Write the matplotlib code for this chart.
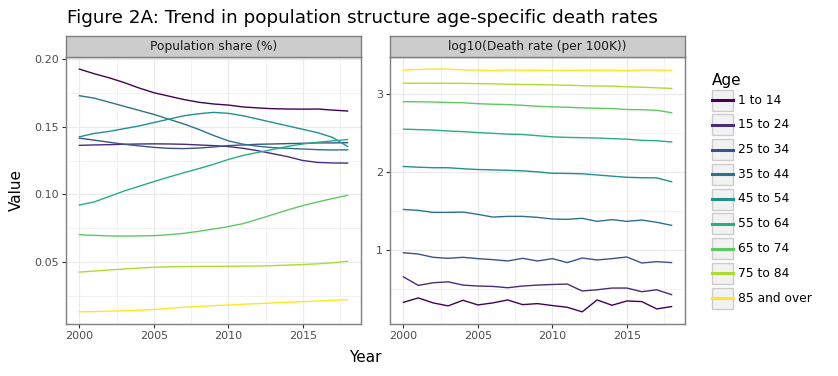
import matplotlib
matplotlib.use("Agg")
import matplotlib.pyplot as plt
from matplotlib.patches import Rectangle
from matplotlib.lines import Line2D
from matplotlib.ticker import MultipleLocator

years = list(range(2000, 2019))
ages = ["1 to 14", "15 to 24", "25 to 34", "35 to 44", "45 to 54",
        "55 to 64", "65 to 74", "75 to 84", "85 and over"]
colors = ["#440154", "#472D7B", "#3B528B", "#2C728E", "#21918C",
          "#28AE80", "#5EC962", "#ADDC30", "#FDE725"]

# Population share (%)
share = {
    "1 to 14": [0.1924, 0.189, 0.186, 0.1825, 0.1785, 0.175, 0.1725, 0.170, 0.168, 0.1667,
                0.1659, 0.1645, 0.1638, 0.1632, 0.163, 0.1629, 0.163, 0.1622, 0.1615],
    "15 to 24": [0.1362, 0.1365, 0.1367, 0.137, 0.1372, 0.1373, 0.1372, 0.137, 0.1365, 0.136,
                 0.1353, 0.134, 0.1322, 0.130, 0.1278, 0.125, 0.1236, 0.1232, 0.1231],
    "25 to 34": [0.1415, 0.140, 0.1385, 0.137, 0.1358, 0.1347, 0.134, 0.1338, 0.1342, 0.135,
                 0.136, 0.1365, 0.137, 0.1372, 0.1375, 0.1377, 0.138, 0.138, 0.1382],
    "35 to 44": [0.1728, 0.171, 0.168, 0.165, 0.162, 0.159, 0.1555, 0.152, 0.148, 0.1435,
                 0.1395, 0.137, 0.1355, 0.1345, 0.134, 0.1335, 0.133, 0.1328, 0.1329],
    "45 to 54": [0.1425, 0.145, 0.1465, 0.1485, 0.1505, 0.153, 0.1555, 0.158, 0.1595, 0.1605,
                 0.1598, 0.158, 0.1555, 0.153, 0.1505, 0.148, 0.1455, 0.142, 0.1354],
    "55 to 64": [0.0922, 0.0945, 0.0985, 0.1025, 0.106, 0.1095, 0.1128, 0.116, 0.119, 0.1222,
                 0.1258, 0.1288, 0.131, 0.1332, 0.1355, 0.1372, 0.1385, 0.1395, 0.1405],
    "65 to 74": [0.0703, 0.0698, 0.0694, 0.0693, 0.0694, 0.0696, 0.0703, 0.0713, 0.0728, 0.0745,
                 0.0763, 0.0785, 0.0818, 0.0852, 0.0886, 0.0918, 0.0945, 0.097, 0.0993],
    "75 to 84": [0.0427, 0.0435, 0.0443, 0.045, 0.0457, 0.0463, 0.0466, 0.0468, 0.0469, 0.0469,
                 0.047, 0.0471, 0.0472, 0.0475, 0.0479, 0.0483, 0.0488, 0.0496, 0.0507],
    "85 and over": [0.0134, 0.0136, 0.0139, 0.0142, 0.0146, 0.0151, 0.0160, 0.0168, 0.0174, 0.018,
                    0.0185, 0.019, 0.0195, 0.020, 0.0205, 0.0209, 0.0214, 0.0219, 0.0224],
}

# log10(Death rate (per 100K))
logdeath = {
    "1 to 14": [0.329, 0.385, 0.321, 0.283, 0.355, 0.295, 0.321, 0.359, 0.299, 0.312,
                0.287, 0.265, 0.206, 0.359, 0.291, 0.346, 0.338, 0.244, 0.274],
    "15 to 24": [0.656, 0.546, 0.580, 0.592, 0.550, 0.538, 0.533, 0.516, 0.538, 0.550,
                 0.558, 0.563, 0.474, 0.490, 0.512, 0.512, 0.465, 0.490, 0.427],
    "25 to 34": [0.966, 0.949, 0.907, 0.894, 0.907, 0.890, 0.877, 0.860, 0.894, 0.860,
                 0.890, 0.839, 0.898, 0.873, 0.890, 0.911, 0.834, 0.851, 0.839],
    "35 to 44": [1.522, 1.510, 1.484, 1.484, 1.488, 1.459, 1.424, 1.433, 1.433, 1.420,
                 1.399, 1.395, 1.408, 1.369, 1.391, 1.369, 1.386, 1.357, 1.318],
    "45 to 54": [2.074, 2.065, 2.058, 2.058, 2.045, 2.035, 2.030, 2.025, 2.018, 2.005,
                 1.987, 1.985, 1.980, 1.965, 1.950, 1.935, 1.930, 1.928, 1.878],
    "55 to 64": [2.554, 2.548, 2.542, 2.530, 2.522, 2.510, 2.500, 2.490, 2.485, 2.470,
                 2.455, 2.448, 2.444, 2.440, 2.432, 2.425, 2.410, 2.405, 2.389],
    "65 to 74": [2.907, 2.906, 2.902, 2.897, 2.893, 2.881, 2.874, 2.870, 2.860, 2.848,
                 2.840, 2.835, 2.828, 2.822, 2.818, 2.806, 2.804, 2.796, 2.765],
    "75 to 84": [3.144, 3.144, 3.143, 3.143, 3.142, 3.139, 3.136, 3.131, 3.128, 3.126,
                 3.122, 3.118, 3.113, 3.108, 3.107, 3.098, 3.093, 3.085, 3.077],
    "85 and over": [3.310, 3.322, 3.325, 3.325, 3.315, 3.313, 3.305, 3.315, 3.310, 3.310,
                    3.308, 3.308, 3.310, 3.310, 3.312, 3.303, 3.315, 3.313, 3.308],
}

panels = [("Population share (%)", share, [0.05, 0.10, 0.15, 0.20], ["0.05", "0.10", "0.15", "0.20"], 0.025),
          ("log10(Death rate (per 100K))", logdeath, [1, 2, 3], ["1", "2", "3"], 0.5)]
xticks = [2000, 2005, 2010, 2015]

W, H = 838, 376
fig = plt.figure(figsize=(W / 100, H / 100), dpi=100)
plt.rcParams['font.family'] = ['DejaVu Sans']

panel_x = [66, 390]
panel_w = 295
top_px, bot_px, strip_top = 57, 324, 36

for (title, data, yt, ytl, minor), px in zip(panels, panel_x):
    ax = fig.add_axes([px / W, 1 - bot_px / H, panel_w / W, (bot_px - top_px) / H])
    for age, c in zip(ages, colors):
        ax.plot(years, data[age], color=c, lw=1.0, solid_joinstyle='round')
    ax.margins(x=0.05, y=0.05)
    ax.set_xticks(xticks)
    ax.set_xticklabels([str(v) for v in xticks])
    ax.xaxis.set_minor_locator(MultipleLocator(2.5))
    ax.set_yticks(yt)
    ax.set_yticklabels(ytl)
    ax.yaxis.set_minor_locator(MultipleLocator(minor))
    ax.grid(which='major', color='#EBEBEB', lw=0.9)
    ax.grid(which='minor', color='#EBEBEB', lw=0.45)
    ax.set_axisbelow(True)
    for s in ax.spines.values():
        s.set_color('#7F7F7F')
        s.set_linewidth(1.0)
    ax.tick_params(which='major', length=3, width=0.8, color='#333333',
                   labelsize=8, labelcolor='#4D4D4D', pad=2)
    ax.tick_params(which='minor', length=0)
    # strip
    sax = fig.add_axes([px / W, 1 - top_px / H, panel_w / W, (top_px - strip_top) / H])
    sax.set_xticks([]); sax.set_yticks([])
    sax.set_facecolor('#CCCCCC')
    for s in sax.spines.values():
        s.set_color('#7F7F7F')
        s.set_linewidth(1.0)
    sax.text(0.5, 0.5, title, ha='center', va='center', fontsize=8.8, color='#1A1A1A',
             transform=sax.transAxes)

fig.text(67 / W, 1 - 18 / H, "Figure 2A: Trend in population structure age-specific death rates",
         ha='left', va='center', fontsize=13.2, color='black')
fig.text(365 / W, 1 - 358 / H, "Year", ha='center', va='center', fontsize=11)
fig.text(16 / W, 1 - 190 / H, "Value", ha='center', va='center', fontsize=11, rotation=90)

# legend
fig.text(712 / W, 1 - 80 / H, "Age", ha='left', va='center', fontsize=11)
for i, (age, c) in enumerate(zip(ages, colors)):
    cy = 100 + 24.75 * i
    fig.patches.append(Rectangle((712 / W, 1 - (cy + 10.5) / H), 21 / W, 21 / H,
                                 transform=fig.transFigure, facecolor='#F2F2F2',
                                 edgecolor='#CCCCCC', lw=1.0))
    fig.lines.append(Line2D([712 / W, 733 / W], [1 - cy / H, 1 - cy / H],
                            transform=fig.transFigure, color=c, lw=2.2))
    fig.text(738 / W, 1 - cy / H, age, ha='left', va='center', fontsize=8.8)

fig.savefig("out.png", dpi=100)
